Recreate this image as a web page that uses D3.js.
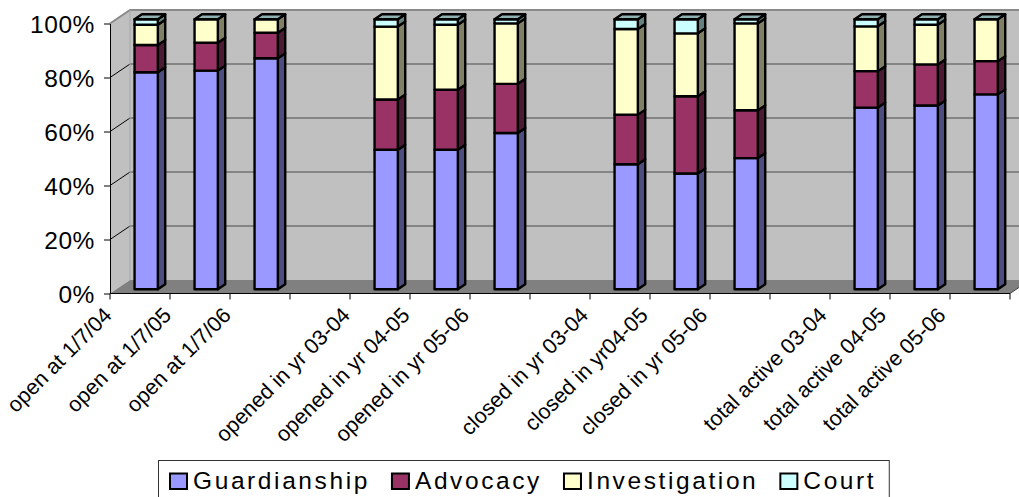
<!DOCTYPE html>
<html>
<head>
<meta charset="utf-8">
<script src="https://cdn.jsdelivr.net/npm/d3@7/dist/d3.min.js"></script>
<style>
  html, body { margin: 0; padding: 0; background: #ffffff; }
  svg { display: block; }
  text { font-family: "Liberation Sans", Arial, sans-serif; fill: #000; }
</style>
</head>
<body>
<svg id="chart" width="1019" height="497"></svg>
<script>
// Case mix by service type, shown as 100% stacked 3-D columns
const categories = [
  "open at 1/7/04", "open at 1/7/05", "open at 1/7/06", "",
  "opened in yr 03-04", "opened in yr 04-05", "opened in yr 05-06", "",
  "closed in yr 03-04", "closed in yr04-05", "closed in yr 05-06", "",
  "total active 03-04", "total active 04-05", "total active 05-06"
];
const seriesNames = ["Guardianship", "Advocacy", "Investigation", "Court"];
const guardianship  = [80.4, 81.0, 85.6, null, 51.7, 51.7, 57.9, null, 46.3, 42.9, 48.6, null, 67.3, 68.1, 72.2];
const advocacy      = [10.1, 10.3,  9.4, null, 18.6, 22.2, 18.2, null, 18.4, 28.6, 17.7, null, 13.5, 15.2, 12.3];
const investigation = [ 7.5,  8.7,  5.0, null, 27.0, 24.1, 22.4, null, 31.7, 23.3, 32.2, null, 16.6, 14.7, 15.5];
const court         = [ 2.0,  0.0,  0.0, null,  2.7,  2.0,  1.5, null,  3.6,  5.2,  1.5, null,  2.6,  2.0,  0.0];
const yTicks = [0, 0.2, 0.4, 0.6, 0.8, 1.0];

const colors = ["#9999FF", "#993366", "#FFFFCC", "#CCFFFF"];

const svg = d3.select("#chart");

// rows for the stack layout
const rows = categories.map((c, i) => ({
  idx: i,
  Guardianship: guardianship[i] || 0,
  Advocacy: advocacy[i] || 0,
  Investigation: investigation[i] || 0,
  Court: court[i] || 0,
  empty: guardianship[i] == null
}));
const stacked = d3.stack().keys(seriesNames).offset(d3.stackOffsetExpand)(rows);

// scales on the front plane
const x = d3.scaleBand().domain(d3.range(categories.length)).range([110, 1010]);
const y = d3.scaleLinear().domain([0, 1]).range([293.5, 23.5]);
const labelX = d3.scaleLinear().domain([0, categories.length - 1]).range([113, 947]);

// depth projection of the 3-D box
const DX = 20, DY = -13.5;
const P = (px, py, d) => [px + d * DX, py + d * DY];
const barFront = 0.31, barBack = 0.68;
const barW = x.bandwidth() * 0.388;

function shade(c, k) {
  const r = d3.rgb(c);
  return d3.rgb(r.r * k, r.g * k, r.b * k).formatHex();
}
const poly = pts => "M" + pts.map(p => p.join(",")).join("L") + "Z";

const [x0r, x1r] = x.range();
const [yBot, yTop] = [y(0), y(1)];

// back wall
svg.append("rect")
  .attr("x", x0r + DX).attr("y", yTop + DY)
  .attr("width", x1r - x0r + 40).attr("height", yBot - yTop)
  .attr("fill", "#c0c0c0");
// side wall
svg.append("path")
  .attr("d", poly([[x0r, yBot], P(x0r, yBot, 1), P(x0r, yTop, 1), [x0r, yTop]]))
  .attr("fill", "#c0c0c0");
// floor
svg.append("path")
  .attr("d", poly([[x0r, yBot], [x1r, yBot], P(x1r, yBot, 1), P(x0r, yBot, 1)]))
  .attr("fill", "#808080");
svg.append("line")
  .attr("x1", x1r).attr("y1", yBot)
  .attr("x2", P(x1r, yBot, 1)[0]).attr("y2", P(x1r, yBot, 1)[1])
  .attr("stroke", "#404040").attr("stroke-width", 1);

// gridlines: back wall and side wall
yTicks.filter(t => t > 0 && t < 1).forEach(t => {
  const yy = y(t);
  svg.append("line")
    .attr("x1", x0r + DX).attr("x2", 1019)
    .attr("y1", yy + DY).attr("y2", yy + DY)
    .attr("stroke", "#4a4a4a").attr("stroke-width", 1.2);
  svg.append("line")
    .attr("x1", x0r).attr("y1", yy)
    .attr("x2", x0r + DX).attr("y2", yy + DY)
    .attr("stroke", "#000").attr("stroke-width", 1);
});
// top edge of walls
svg.append("path")
  .attr("d", "M" + [x0r, yTop] + "L" + P(x0r, yTop, 1) + "L" + [1019, yTop + DY])
  .attr("fill", "none").attr("stroke", "#8a8a8a").attr("stroke-width", 2);
svg.append("line")
  .attr("x1", x0r + DX).attr("x2", x0r + DX)
  .attr("y1", yTop + DY).attr("y2", yBot + DY)
  .attr("stroke", "#a8a8a8").attr("stroke-width", 1);

// y axis
const yAxis = d3.axisLeft(y).tickValues(yTicks).tickFormat(d3.format(".0%"))
  .tickSizeInner(6).tickSizeOuter(0).tickPadding(9);
const gy = svg.append("g").attr("transform", `translate(${x0r},0)`).call(yAxis);
gy.select(".domain").attr("stroke", "#000");
gy.selectAll(".tick line").attr("stroke", "#000");
gy.selectAll(".tick text")
  .attr("font-size", 24.5)
  .attr("font-family", "'Liberation Sans', Arial, sans-serif")
  .attr("letter-spacing", 0.6)
  .attr("dy", "0.36em");

// x axis line and tick marks at category boundaries
svg.append("line")
  .attr("x1", x0r).attr("x2", x1r).attr("y1", yBot).attr("y2", yBot)
  .attr("stroke", "#000").attr("stroke-width", 1);
const bounds = d3.range(categories.length + 1).map(i => i < categories.length ? x(i) : x1r);
svg.append("g").selectAll("line").data(bounds).join("line")
  .attr("x1", d => d).attr("x2", d => d)
  .attr("y1", yBot).attr("y2", yBot + 6)
  .attr("stroke", "#000").attr("stroke-width", 1);

// category labels
svg.append("g").selectAll("text")
  .data(categories.map((c, i) => ({ c, i })).filter(d => d.c !== ""))
  .join("text")
  .attr("transform", d => `translate(${labelX(d.i)},${yBot + 23}) rotate(-45)`)
  .attr("text-anchor", "end")
  .attr("font-size", 21.5)
  .text(d => d.c);

// bars
const barsG = svg.append("g");
rows.forEach((row, i) => {
  if (row.empty) return;
  const bx0 = x(i) + (x.bandwidth() - barW) / 2;
  const bx1 = bx0 + barW;
  const g = barsG.append("g");
  stacked.forEach((s, k) => {
    const [v0, v1] = s[i];
    if (v1 - v0 <= 0) return;
    const ya = y(v0), yb = y(v1);
    // side face
    g.append("path")
      .attr("d", poly([P(bx1, ya, barFront), P(bx1, ya, barBack), P(bx1, yb, barBack), P(bx1, yb, barFront)]))
      .attr("fill", shade(colors[k], 0.5))
      .attr("stroke", "#000").attr("stroke-width", 2.4).attr("stroke-linejoin", "round");
    // front face
    g.append("path")
      .attr("d", poly([P(bx0, ya, barFront), P(bx1, ya, barFront), P(bx1, yb, barFront), P(bx0, yb, barFront)]))
      .attr("fill", colors[k])
      .attr("stroke", "#000").attr("stroke-width", 2.4).attr("stroke-linejoin", "round");
  });
  // top face, shaded from the uppermost series
  const yt = y(1);
  g.append("path")
    .attr("d", poly([P(bx0, yt, barFront), P(bx1, yt, barFront), P(bx1, yt, barBack), P(bx0, yt, barBack)]))
    .attr("fill", shade(colors[colors.length - 1], 0.7))
    .attr("stroke", "#000").attr("stroke-width", 2.4).attr("stroke-linejoin", "round");
});

// legend
const legend = svg.append("g");
const legBox = legend.append("rect")
  .attr("x", 158.5).attr("y", 460.5).attr("height", 50)
  .attr("fill", "#fff").attr("stroke", "#333").attr("stroke-width", 1);
let lx = 170;
seriesNames.forEach((name, k) => {
  legend.append("rect")
    .attr("x", lx).attr("y", 473.5).attr("width", 17).attr("height", 15.5)
    .attr("fill", colors[k]).attr("stroke", "#000").attr("stroke-width", 2);
  const t = legend.append("text")
    .attr("x", lx + 23).attr("y", 488.5)
    .attr("font-size", 24.5).attr("letter-spacing", 2.6)
    .text(name);
  lx += 23 + t.node().getComputedTextLength() + 22;
});
legBox.attr("width", lx - 22 + 13 - 158.5);
</script>
</body>
</html>
